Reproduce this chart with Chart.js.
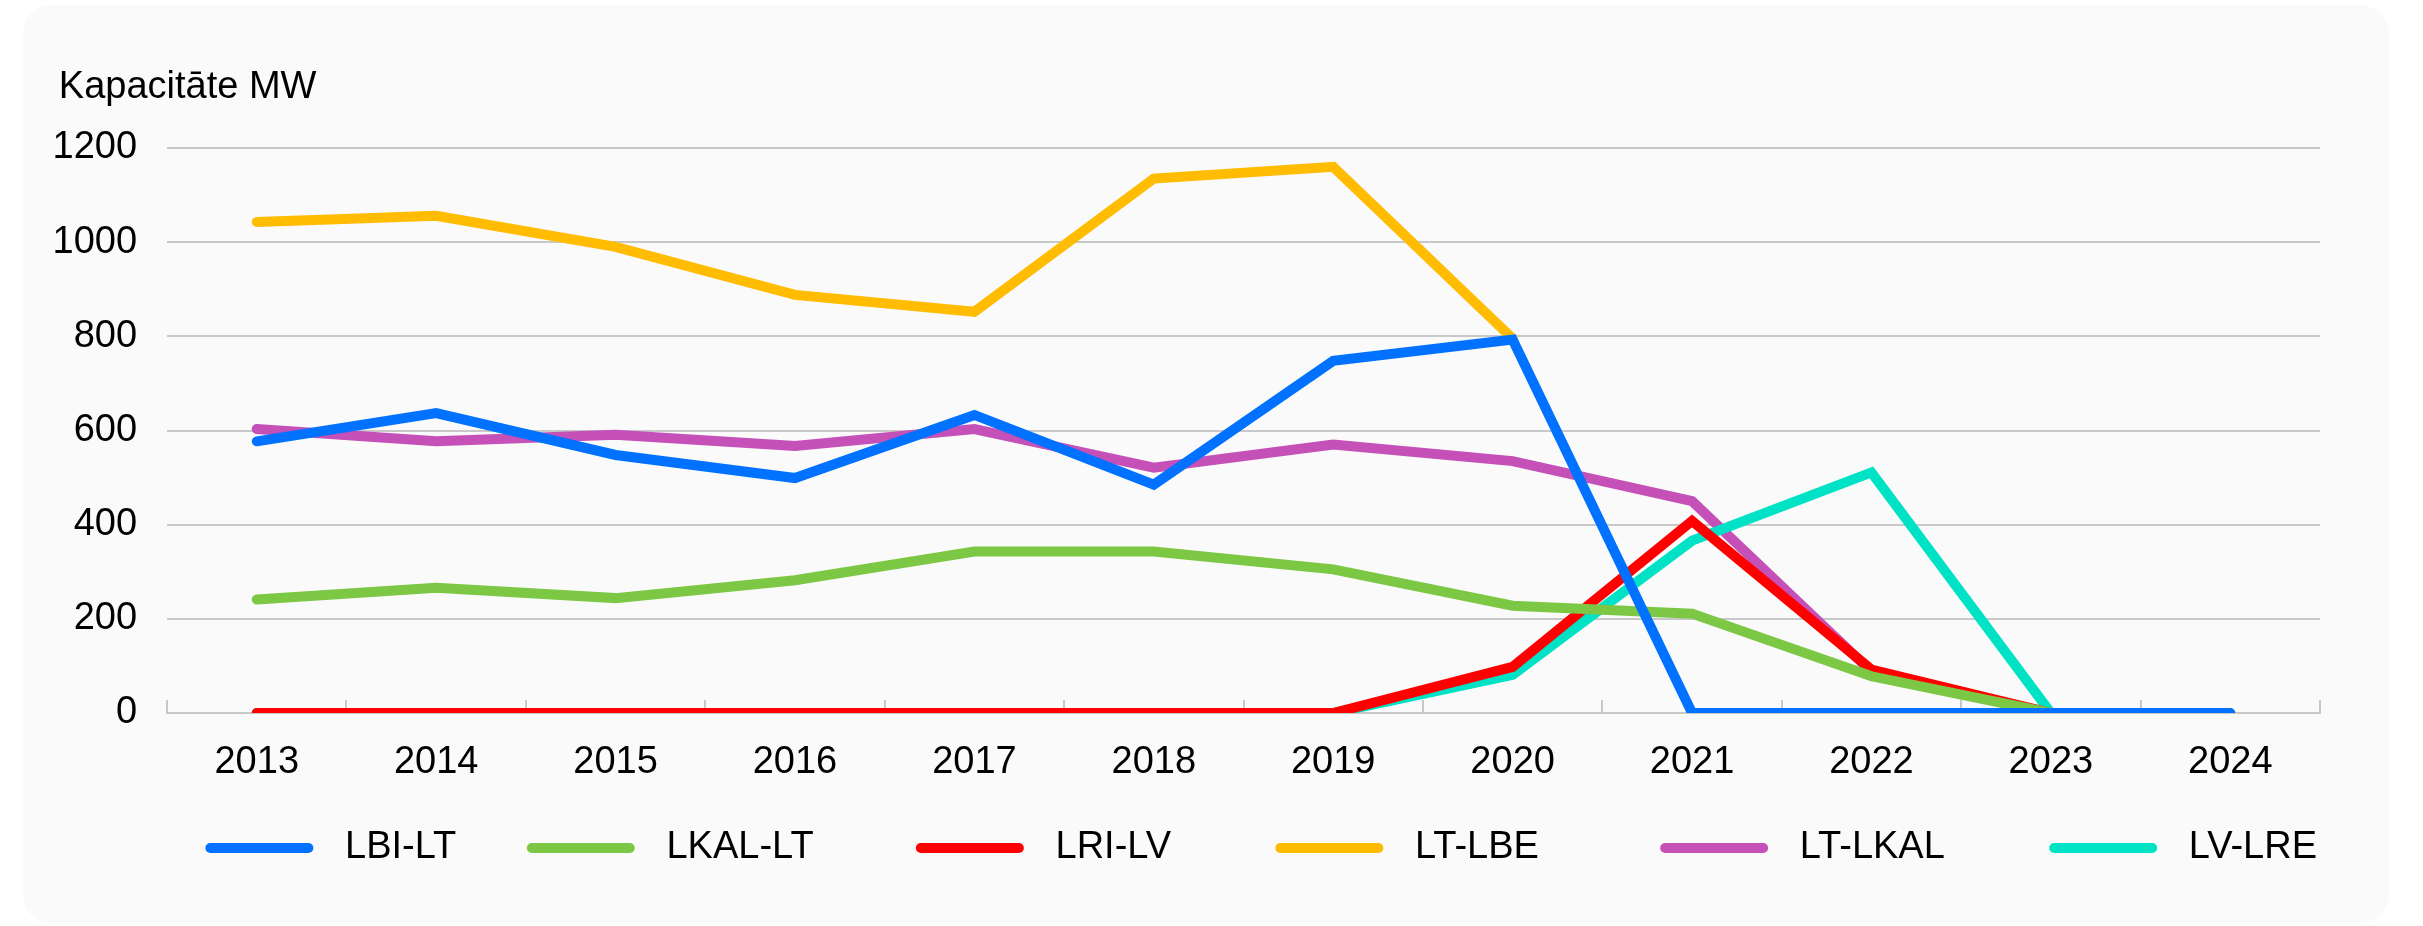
<!DOCTYPE html>
<html>
<head>
<meta charset="utf-8">
<script src="https://cdn.jsdelivr.net/npm/chart.js@4/dist/chart.umd.min.js"></script>
<style>
  html, body { margin: 0; background: #fff; }
  #card {
    position: absolute; left: 23px; top: 5px;
    width: 2366px; height: 918px;
    background: #fafafa; border-radius: 28px; overflow: hidden;
  }
  canvas { display: block; }
</style>
</head>
<body>
<div id="card"><canvas id="chart" width="2366" height="918"></canvas></div>
<script>
/* data ------------------------------------------------------------ */
const chartTitle  = 'Kapacitāte MW';
const years       = ['2013', '2014', '2015', '2016', '2017', '2018',
                     '2019', '2020', '2021', '2022', '2023', '2024'];
const seriesNames = ['LBI-LT', 'LKAL-LT', 'LRI-LV', 'LT-LBE', 'LT-LKAL', 'LV-LRE'];

const lbiLt  = [577, 637, 548, 499, 633, 485, 748, 793, 0, 0, 0, 0];
const lkalLt = [241, 266, 244, 282, 343, 343, 305, 228, 211, 78, 0, null];
const lriLv  = [0, 0, 0, 0, 0, 0, 0, 98, 408, 92, 0, null];
const ltLbe  = [1043, 1056, 990, 888, 852, 1135, 1160, 795, null, null, null, null];
const ltLkal = [603, 577, 591, 567, 603, 521, 570, 535, 450, 88, 0, null];
const lvLre  = [0, 0, 0, 0, 0, 0, 0, 81, 366, 511, 0, null];

const yMax  = 1200;
const yStep = 200;

/* styling --------------------------------------------------------- */
const colors  = ['#0072ff', '#7cc844', '#ff0000', '#ffbc00', '#c450b8', '#00e2c6'];
const values  = [lbiLt, lkalLt, lriLv, ltLbe, ltLkal, lvLre];
const drawOrd = [0, 0, 0, 0, 1, 0];          // purple sits under the others

// spacing round each legend label (the gaps in the original are uneven)
const EM = '\u2003', EN = '\u2002', TP = '\u2004', SX = '\u2006', SP = ' ';
const legendLead = TP;
const legendGap  = [EM + EN + SP, EM + EM + TP + SP, EM + EM + TP + TP,
                    EM + EM + EN + TP + SP, EM + EM + TP + TP, ''];

Chart.defaults.font.family = "'Liberation Sans', Arial, sans-serif";
Chart.defaults.font.size   = 38;
Chart.defaults.color       = '#000';

const GRID = '#c8c8c8';

new Chart(document.getElementById('chart'), {
  type: 'line',
  data: {
    labels: years,
    datasets: seriesNames.map((name, i) => ({
      label: name,
      data: values[i],
      borderColor: colors[i],
      backgroundColor: colors[i],
      borderWidth: 10,
      borderCapStyle: 'round',
      borderJoinStyle: 'miter',
      pointRadius: 0,
      pointHoverRadius: 0,
      tension: 0,
      fill: false,
      order: drawOrd[i]
    }))
  },
  options: {
    responsive: false,
    animation: false,
    devicePixelRatio: 1,
    layout: { padding: { left: 29.5, right: 69, top: 10, bottom: 46 } },
    plugins: {
      tooltip: { enabled: false },
      title: {
        display: true,
        text: SX + chartTitle,      // nudged right of the tick labels
        align: 'start',
        color: '#000',
        font: { size: 38, weight: 'normal' },
        padding: { top: 50.2, bottom: 37.2 }
      },
      legend: {
        position: 'bottom',
        align: 'end',
        labels: {
          boxWidth: 108,
          boxHeight: 10,
          padding: 3,
          useBorderRadius: true,
          borderRadius: 5,
          color: '#000',
          font: { size: 38 },
          generateLabels: chart =>
            Chart.defaults.plugins.legend.labels.generateLabels(chart)
              .sort((a, b) => a.datasetIndex - b.datasetIndex)
              .map(item => ({
                ...item,
                text: legendLead + item.text + legendGap[item.datasetIndex],
                fillStyle: item.strokeStyle,
                lineWidth: 0
              }))
        }
      }
    },
    scales: {
      x: {
        offset: true,
        ticks: { padding: 40.2, maxRotation: 0, autoSkip: false, color: '#000' },
        grid: {
          offset: true,
          drawOnChartArea: false,
          drawTicks: true,
          tickLength: -13,          // little marks point up into the plot
          color: GRID,
          lineWidth: 2
        },
        border: { display: true, color: GRID, width: 2 }
      },
      y: {
        min: 0,
        max: yMax,
        ticks: { stepSize: yStep, padding: 0, color: '#000', callback: v => String(v) },
        grid: {
          color: GRID,
          lineWidth: 2,
          drawTicks: true,
          tickLength: 30,
          tickColor: 'transparent'
        },
        border: { display: false }
      }
    }
  }
});
</script>
</body>
</html>
